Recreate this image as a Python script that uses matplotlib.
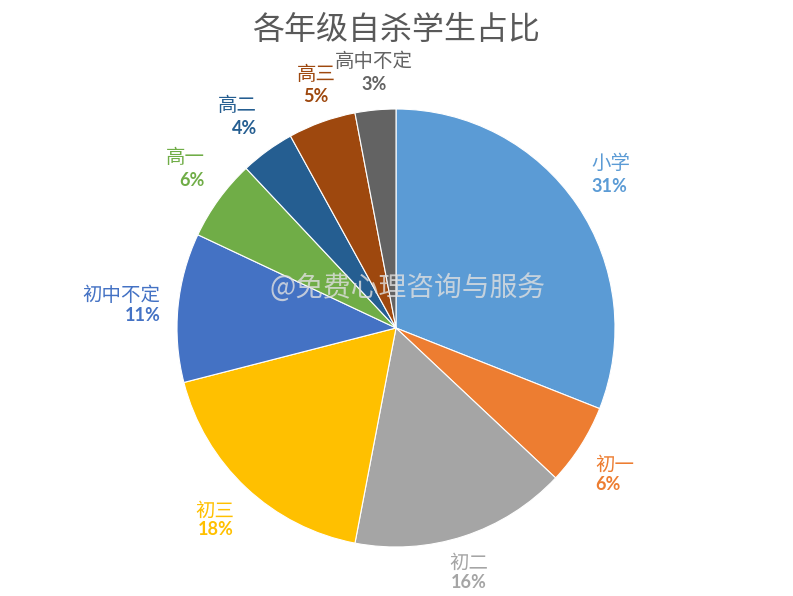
#!/usr/bin/env python3
# pie chart: share of student suicides by grade
import numpy as np
import matplotlib
matplotlib.use("Agg")
import matplotlib.pyplot as plt

plt.rcParams['font.family'] = ['Noto Sans CJK SC', 'DejaVu Sans']

labels = ['小学', '初一', '初二', '初三', '初中不定', '高一', '高二', '高三', '高中不定']
values = [31, 6, 16, 18, 11, 6, 4, 5, 3]
colors = ['#5B9BD5', '#ED7D31', '#A5A5A5', '#FFC000', '#4472C4',
          '#70AD47', '#255E91', '#9E480E', '#636363']

fig = plt.figure(figsize=(7.93, 5.96), dpi=100)
# pie centre ~ (396, 328) px, radius ~219 px
ax = fig.add_axes([(396 - 219) / 793, (596 - 328 - 219) / 596, 438 / 793, 438 / 596])

wedges, _ = ax.pie(values, colors=colors, startangle=90, counterclock=False,
                   radius=1.0, wedgeprops=dict(edgecolor='white', linewidth=0.8))
ax.set_xlim(-1, 1)
ax.set_ylim(-1, 1)
ax.set_aspect('equal')
ax.axis('off')

total = float(sum(values))
gap = 15  # points between name line and percent line
for w, lab, v, c in zip(wedges, labels, values, colors):
    ang = np.deg2rad((w.theta1 + w.theta2) / 2)
    cx, cy = np.cos(ang), np.sin(ang)
    x, y = 1.08 * cx, 1.08 * cy
    ha = 'left' if cx > 0.5 else ('right' if cx < -0.5 else 'center')
    if cy > 0.5:
        name_off, name_va, pct_off, pct_va = gap, 'bottom', 0, 'bottom'
    elif cy < -0.5:
        name_off, name_va, pct_off, pct_va = 0, 'top', -gap, 'top'
    else:
        name_off, name_va, pct_off, pct_va = 0, 'bottom', -1, 'top'
    ax.annotate(lab, (x, y), xytext=(0, name_off), textcoords='offset points',
                ha=ha, va=name_va, color=c, fontsize=14, annotation_clip=False)
    ax.annotate('%d%%' % round(v / total * 100), (x, y), xytext=(0, pct_off),
                textcoords='offset points', ha=ha, va=pct_va, color=c,
                fontsize=13, fontweight='bold', family=['Lato', 'DejaVu Sans'],
                annotation_clip=False)

fig.text(0.5, 1 - 30 / 596, '各年级自杀学生占比', ha='center', va='center',
         fontsize=23, color='#595959')

# watermark
fig.text(407 / 793, 1 - 288 / 596, '@免费心理咨询与服务', ha='center', va='center',
         fontsize=20, color='#e0e0e0', alpha=0.8)

fig.savefig('out.png', dpi=100)
